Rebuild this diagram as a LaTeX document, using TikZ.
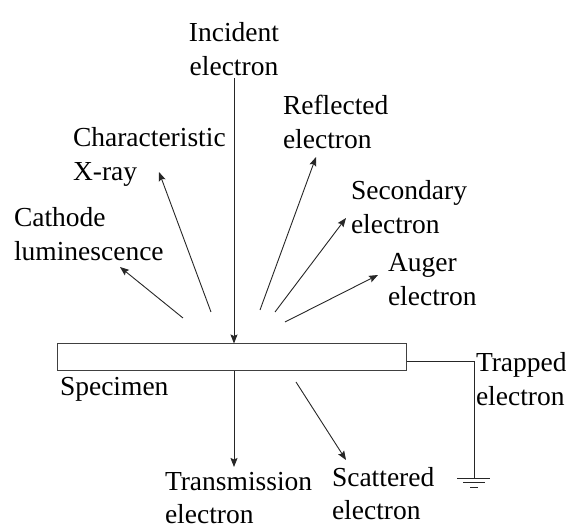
\documentclass[tikz,border=0pt]{standalone}
\usepackage{fontspec}
\setmainfont{Liberation Serif}
\usetikzlibrary{arrows.meta}
\begin{document}
\begin{tikzpicture}[x=1pt,y=-1pt,
  lbl/.style={inner sep=0pt, outer sep=0pt, align=left, anchor=north west,
              font=\fontsize{27.5}{34}\selectfont},
  ray/.style={draw=black!85, line width=0.9pt, -{Stealth[length=9pt,width=7pt,inset=1.5pt]}},
  wire/.style={draw=black!85, line width=0.9pt}]
\useasboundingbox (0,0) rectangle (566,529);

% specimen plate
\node[draw=black!75, line width=1pt, minimum width=349pt, minimum height=27pt,
      inner sep=0pt] (spec) at (231.5,357.5) {};
\node[lbl] (specl) at (60,377) {Specimen};

% labels
\node[lbl, anchor=north, align=center] (inc) at (234,22.6) {Incident\\electron};
\node[lbl] (xray) at (73,127.6) {Characteristic\\X-ray};
\node[lbl] (cath) at (14,207.6) {Cathode\\luminescence};
\node[lbl] (refl) at (283,95.6) {Reflected\\electron};
\node[lbl] (sec) at (351,180.6) {Secondary\\electron};
\node[lbl] (aug) at (388,253.6) {Auger\\electron};
\node[lbl] (trap) at (476,352.6) {Trapped\\electron};
\node[lbl, font=\fontsize{27.5}{33}\selectfont] (trans) at (165,472) {Transmission\\electron};
\node[lbl, font=\fontsize{27.5}{33}\selectfont] (scat) at (332,467) {Scattered\\electron};

% points where the emitted signals leave the surface, and their tips
\coordinate (oCL) at (183,318);  \coordinate (tCL) at (120,267);
\coordinate (oXR) at (211,312);  \coordinate (tXR) at (159,172);
\coordinate (oRE) at (260,310);  \coordinate (tRE) at (316,157);
\coordinate (oSE) at (275,312);  \coordinate (tSE) at (346,218);
\coordinate (oAU) at (285,322);  \coordinate (tAU) at (378,275);
\coordinate (oSC) at (296,382);  \coordinate (tSC) at (346,460);

% incident and transmitted beams
\draw[ray, shorten <=2.5pt] (inc.south) -- (inc.south |- spec.north);
\draw[ray] (inc.south |- spec.south) -- ([yshift=5pt]inc.south |- trans.north);

% emitted signals
\draw[ray] (oCL) -- (tCL);
\draw[ray] (oXR) -- (tXR);
\draw[ray] (oRE) -- (tRE);
\draw[ray] (oSE) -- (tSE);
\draw[ray] (oAU) -- (tAU);
\draw[ray] (oSC) -- (tSC);

% trapped electrons to ground
\coordinate (bend) at (474,361);
\coordinate (gnd) at (474,478);
\draw[wire] (bend -| spec.east) -- (bend) -- (gnd);
\draw[wire] ([xshift=-17pt]gnd) -- ([xshift=16pt]gnd);
\draw[wire] ([shift={(-11,4.5)}]gnd) -- ([shift={(11,4.5)}]gnd);
\draw[wire] ([shift={(-4,9)}]gnd) -- ([shift={(4,9)}]gnd);
\end{tikzpicture}
\end{document}
